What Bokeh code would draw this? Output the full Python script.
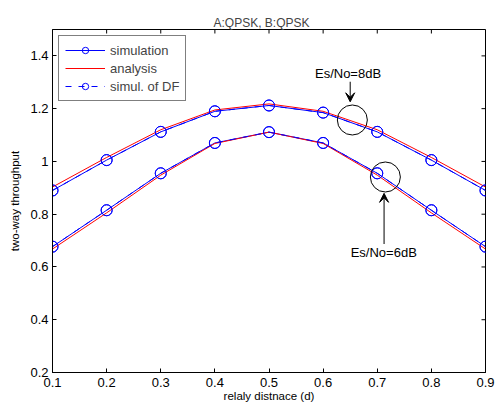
import math
from bokeh.plotting import figure
from bokeh.models import (Range1d, FixedTicker, Legend, LegendItem,
                          Arrow, VeeHead, Label)
from bokeh.embed import file_html
from bokeh.resources import INLINE

# ---- data ----
d = [0.1, 0.2, 0.3, 0.4, 0.5, 0.6, 0.7, 0.8, 0.9]
sim_8dB = [0.890, 1.005, 1.112, 1.190, 1.212, 1.185, 1.112, 1.005, 0.890]
ana_8dB = [0.903, 1.015, 1.120, 1.195, 1.218, 1.190, 1.120, 1.015, 0.903]
sim_6dB = [0.677, 0.815, 0.955, 1.070, 1.111, 1.070, 0.955, 0.815, 0.677]
ana_6dB = [0.668, 0.805, 0.948, 1.068, 1.111, 1.068, 0.948, 0.805, 0.668]
df_8dB = sim_8dB
df_6dB = sim_6dB

x_ticks = [0.1, 0.2, 0.3, 0.4, 0.5, 0.6, 0.7, 0.8, 0.9]
x_tick_labels = ["0.1", "0.2", "0.3", "0.4", "0.5", "0.6", "0.7", "0.8", "0.9"]
y_ticks = [0.2, 0.4, 0.6, 0.8, 1.0, 1.2, 1.4]
y_tick_labels = ["0.2", "0.4", "0.6", "0.8", "1", "1.2", "1.4"]
x_min, x_max = 0.1, 0.9
y_min, y_max = 0.2, 1.5

# annotation anchors (data coords)
ring_x = [0.654, 0.715]
ring_y = [1.157, 0.941]
ann_text = ["Es/No=8dB", "Es/No=6dB"]
ann_text_x = [0.646, 0.712]
ann_text_y = [1.332, 0.653]
arrow_x = [0.650, 0.7126]
arrow_tail_y = [1.302, 0.687]
arrow_tip_y = [1.226, 0.879]

FONT = "Liberation Sans"
BLUE = "#0000FF"
RED = "#FF0000"

p = figure(width=499, height=406, output_backend="svg", toolbar_location=None,
           x_range=Range1d(x_min, x_max), y_range=Range1d(y_min, y_max),
           min_border_left=52, min_border_right=14, min_border_top=29,
           min_border_bottom=34)
p.title.text = "A:QPSK, B:QPSK"
p.title.align = "left"
p.title.offset = 161
p.title.standoff = 0
p.title.text_font = FONT
p.title.text_font_size = "12px"
p.title.text_font_style = "normal"

p.grid.visible = False
p.background_fill_color = "white"
p.border_fill_color = "white"
p.outline_line_color = "black"
p.outline_line_width = 1

for ax in (p.xaxis[0], p.yaxis[0]):
    ax.axis_line_color = "black"
    ax.major_tick_in = 4
    ax.major_tick_out = 0
    ax.minor_tick_line_color = None
    ax.major_label_text_font = FONT
    ax.major_label_text_font_size = "13px"
    ax.major_label_text_color = "black"
    ax.axis_label_text_font = FONT
    ax.axis_label_text_font_size = "11.5px"
    ax.axis_label_text_font_style = "normal"
    ax.axis_label_text_color = "black"

p.xaxis[0].ticker = FixedTicker(ticks=x_ticks)
p.xaxis[0].major_label_overrides = dict(zip(x_ticks, x_tick_labels))
p.xaxis[0].major_label_standoff = 5
p.xaxis[0].axis_label = "relaly distnace (d)"
p.xaxis[0].axis_label_standoff = 0
p.yaxis[0].ticker = FixedTicker(ticks=y_ticks)
p.yaxis[0].major_label_overrides = dict(zip(y_ticks, y_tick_labels))
p.yaxis[0].major_label_standoff = 4
p.yaxis[0].axis_label = "two-way throughput"
p.yaxis[0].axis_label_standoff = 6

# mirrored inward ticks on top and right edges of the box (clipped to frame)
p.scatter(x_ticks, [y_max] * len(x_ticks), marker="dash", size=8, angle=math.pi / 2,
          line_color="black", line_width=1)
p.scatter([x_max] * len(y_ticks), y_ticks, marker="dash", size=8,
          line_color="black", line_width=1)

# curves
s1l = p.line(d, sim_8dB, line_color=BLUE, line_width=1)
s1m = p.scatter(d, sim_8dB, marker="circle", size=11, line_color=BLUE, fill_color=None)
p.line(d, sim_6dB, line_color=BLUE, line_width=1)
p.scatter(d, sim_6dB, marker="circle", size=11, line_color=BLUE, fill_color=None)

a1 = p.line(d, ana_8dB, line_color=RED, line_width=1)
p.line(d, ana_6dB, line_color=RED, line_width=1)

f1l = p.line(d, df_8dB, line_color=BLUE, line_width=1, line_dash="6 7")
f1m = p.scatter(d, df_8dB, marker="circle", size=11, line_color=BLUE, fill_color=None)
p.line(d, df_6dB, line_color=BLUE, line_width=1, line_dash="6 7")
p.scatter(d, df_6dB, marker="circle", size=11, line_color=BLUE, fill_color=None)

# rings & arrows
p.scatter(ring_x, ring_y, marker="circle", size=30, line_color="black", fill_color=None)
for i in range(2):
    p.add_layout(Arrow(end=VeeHead(size=9, fill_color="black", line_color="black", line_width=1),
                       x_start=arrow_x[i], y_start=arrow_tail_y[i],
                       x_end=arrow_x[i], y_end=arrow_tip_y[i],
                       line_color="black", line_width=1))
    p.add_layout(Label(x=ann_text_x[i], y=ann_text_y[i], text=ann_text[i],
                       text_font=FONT, text_font_size="13px", text_align="center",
                       text_baseline="middle", text_color="black"))

legend = Legend(items=[
    LegendItem(label="simulation", renderers=[s1l, s1m]),
    LegendItem(label="analysis", renderers=[a1]),
    LegendItem(label="simul. of DF", renderers=[f1l, f1m]),
], location="top_left")
legend.margin = 6
legend.padding = 6
legend.spacing = 2
legend.glyph_width = 40
legend.glyph_height = 16
legend.label_height = 16
legend.label_standoff = 5
legend.label_text_font = FONT
legend.label_text_font_size = "13px"
legend.border_line_color = "black"
legend.border_line_width = 1
legend.background_fill_color = "white"
legend.background_fill_alpha = 1
p.add_layout(legend)

open("out.html", "w").write(file_html(p, INLINE))
